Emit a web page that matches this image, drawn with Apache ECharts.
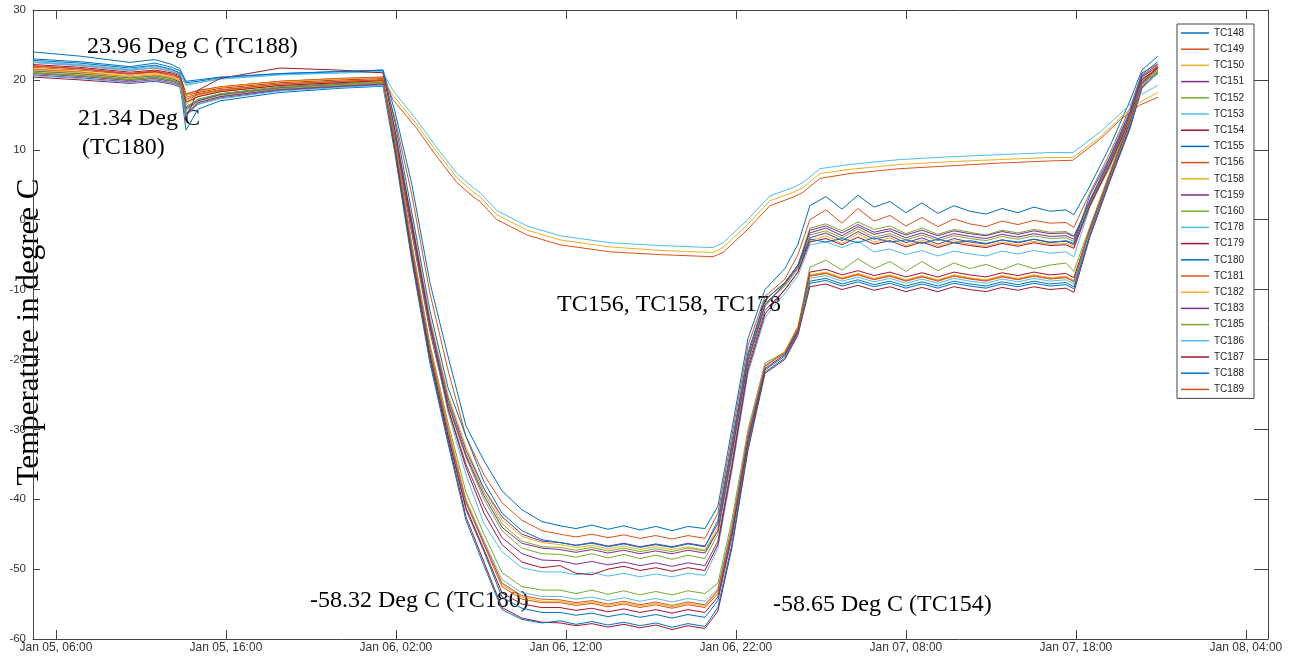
<!DOCTYPE html>
<html>
<head>
<meta charset="utf-8">
<script src="https://cdn.jsdelivr.net/npm/echarts@6/dist/echarts.min.js"></script>
<style>
  html, body { margin: 0; padding: 0; background: #fff; }
  #chart { width: 1292px; height: 656px; }
</style>
</head>
<body>
<div id="chart"></div>
<script>
// hours since Jan 05 00:00
const tFast = [4.65, 7.41, 10.35, 11.82, 12.82, 13.29, 13.65, 14.35, 15.65, 19.18, 22.71, 25.24,
  25.94, 26.94, 28.0, 29.06, 30.12, 31.18, 32.24, 33.41, 34.59,
  35.65, 36.59, 37.53, 38.47, 39.41, 40.35, 41.29, 42.24, 43.18, 44.18,
  44.94, 45.76, 46.71, 47.71, 48.88, 49.65,
  50.35, 51.29, 52.24, 53.18, 54.12, 55.06, 56.0, 56.94, 57.88, 58.82, 59.76, 60.71, 61.65, 62.59, 63.53, 64.47, 65.41, 65.88,
  66.82, 68.0, 69.18, 69.88, 70.82]

const tSlow = [4.65, 7.41, 10.35, 11.82, 12.82, 13.29, 13.65, 14.35, 15.65, 19.18, 22.71, 25.24,
  25.82, 27.24, 28.41, 29.59, 30.53, 30.94, 31.94, 33.71, 35.65, 38.59, 41.53, 44.65, 45.24,
  46.65, 48.0, 49.35, 49.94, 50.94, 52.71, 55.65, 58.59, 61.53, 64.47, 65.82,
  67.41, 68.71, 69.76, 70.82]

const tc148 = [23.0, 22.6, 21.9, 22.4, 21.8, 21.3, 19.6, 19.8, 20.3, 20.9, 21.2, 21.4,
  15.5, 5.0, -9.0, -19.5, -29.5, -34.5, -38.8, -41.5, -43.2,
  -43.8, -44.2, -43.7, -44.3, -43.8, -44.4, -43.9, -44.5, -43.9, -44.2,
  -41, -30, -17, -10, -7, -3.5,
  2.0, 3.3, 1.5, 3.5, 1.8, 2.6, 1.0, 2.4, 0.9, 2.0, 1.2, 0.8, 1.6, 1.0, 1.8, 1.2, 1.4, 0.7,
  4.8, 10.5, 17.0, 21.4, 23.4]
const tc149 = [22.5, 22.1, 21.4, 21.7, 21.2, 20.8, 18.0, 18.4, 19.0, 19.8, 20.2, 20.4,
  14.5, 3.5, -10.5, -21.5, -31.0, -36.5, -40.5, -43.0, -44.5,
  -45.0, -45.4, -45.0, -45.5, -45.1, -45.6, -45.2, -45.7, -45.2, -45.6,
  -42, -31, -18, -11, -8.5, -5,
  0.0, 1.4, -0.5, 1.6, -0.2, 0.6, -0.9, 0.3, -1.0, 0.1, -0.6, -1.0, -0.2, -0.7, -0.1, -0.5, -0.4, -1.1,
  3.8, 9.5, 16.0, 21.0, 22.3]
const tc150 = [21.6, 21.2, 20.6, 20.9, 20.4, 20.0, 16.5, 17.6, 18.3, 19.2, 19.7, 20.0,
  12.5, 0.0, -14.0, -25.0, -32.5, -38.5, -43.0, -45.3, -46.2,
  -46.5, -46.9, -46.6, -47.1, -46.7, -47.2, -46.8, -47.2, -46.8, -47.3,
  -44, -33, -20, -12, -9.5, -7,
  -3.0, -2.3, -3.4, -2.0, -3.2, -2.6, -3.7, -2.9, -3.8, -3.0, -3.5, -3.8, -3.2, -3.6, -3.1, -3.5, -3.4, -3.9,
  2.5, 8.5, 15.0, 20.5, 22.0]
const tc151 = [20.7, 20.3, 19.7, 20.0, 19.6, 19.2, 15.0, 16.5, 17.4, 18.5, 19.0, 19.3,
  11.0, -2.0, -16.0, -27.0, -35.0, -41.0, -45.5, -47.8, -48.7,
  -48.8, -49.3, -48.9, -49.4, -49.0, -49.5, -49.1, -49.6, -49.1, -49.5,
  -46, -35, -21, -13, -10, -7.5,
  -2.6, -1.9, -3.0, -1.7, -2.8, -2.3, -3.3, -2.6, -3.5, -2.7, -3.2, -3.5, -2.9, -3.3, -2.8, -3.2, -3.1, -3.6,
  2.2, 8.0, 14.5, 20.0, 21.6]
const tc152 = [21.2, 20.8, 20.1, 20.4, 20.0, 19.6, 15.5, 17.0, 17.8, 18.8, 19.3, 19.6,
  11.5, -1.5, -15.5, -26.5, -34.0, -40.0, -44.5, -47.0, -47.8,
  -47.9, -48.3, -47.8, -48.4, -47.9, -48.5, -48.0, -48.6, -48.0, -48.5,
  -45, -34, -20.5, -12.5, -9, -6.5,
  -1.2, -0.6, -1.6, -0.3, -1.4, -0.9, -2.0, -1.2, -2.1, -1.4, -1.8, -2.2, -1.5, -1.9, -1.4, -1.8, -1.7, -2.3,
  2.0, 7.5, 14.0, 19.6, 21.0]
const tc153 = [22.6, 22.2, 21.5, 22.0, 21.4, 20.9, 19.2, 19.6, 20.2, 20.8, 21.0, 21.2,
  13.0, -0.5, -15.0, -27.5, -36.5, -43.5, -47.5, -49.8, -50.4,
  -50.4, -50.8, -50.5, -51.0, -50.6, -51.1, -50.7, -51.1, -50.6, -50.9,
  -47, -36, -22, -14, -10.5, -8,
  -3.6, -3.2, -4.0, -3.1, -4.6, -4.2, -5.0, -4.4, -5.2, -4.5, -4.9, -5.2, -4.5, -4.9, -4.4, -4.8, -4.6, -5.3,
  1.8, 7.8, 14.2, 19.8, 21.2]
const tc154 = [22.2, 21.8, 21.1, 21.4, 21.0, 20.6, 17.8, 18.2, 18.8, 19.6, 20.0, 20.2,
  10.0, -5.5, -20.0, -31.5, -42.5, -49.0, -55.5, -57.0, -57.6,
  -57.7, -58.1, -57.8, -58.3, -57.9, -58.4, -58.0, -58.65, -58.1, -58.5,
  -56.0, -47.0, -33.0, -22.0, -20.0, -16.5,
  -9.6, -9.2, -10.0, -9.4, -10.1, -9.6, -10.3, -9.7, -10.3, -9.6, -10.0, -10.3, -9.7, -10.1, -9.6, -10.0, -9.8, -10.4,
  -2.5, 5.5, 13.0, 18.8, 21.0]
const tc155 = [22.8, 22.4, 21.7, 22.1, 21.5, 21.0, 16.0, 17.2, 18.0, 19.0, 19.5, 19.8,
  10.8, -4.8, -19.5, -31.0, -41.5, -47.5, -54.0, -55.6, -56.2,
  -56.2, -56.6, -56.3, -56.8, -56.4, -56.9, -56.5, -57.0, -56.5, -56.9,
  -54.5, -45.5, -32.0, -21.5, -19.5, -16.0,
  -8.8, -8.4, -9.2, -8.6, -9.3, -8.8, -9.5, -8.9, -9.5, -8.8, -9.2, -9.5, -8.9, -9.3, -8.8, -9.2, -9.0, -9.6,
  -1.8, 6.0, 13.5, 19.2, 21.5]
const tc156 = [21.5, 21.1, 20.4, 20.7, 20.3, 19.8, 18.0, 18.5, 19.0, 19.8, 20.2, 20.4,
  17.2, 13.0, 9.0, 5.3, 3.3, 2.6, 0.0, -2.2, -3.6, -4.6, -5.0, -5.3, -4.7,
  -1.5, 2.0, 3.2, 3.9, 5.9, 6.6, 7.3, 7.7, 8.1, 8.4, 8.5,
  11.5, 14.5, 16.4, 17.5]
const tc158 = [21.2, 20.8, 20.2, 20.5, 20.1, 19.7, 17.8, 18.3, 18.9, 19.7, 20.1, 20.3,
  17.8, 13.6, 9.7, 6.0, 4.0, 3.3, 0.7, -1.5, -2.9, -3.9, -4.4, -4.7, -4.0,
  -0.8, 2.7, 3.9, 4.6, 6.6, 7.2, 7.9, 8.3, 8.6, 8.9, 8.9,
  11.8, 14.8, 16.8, 18.2]
const tc159 = [20.9, 20.5, 19.9, 20.2, 19.8, 19.4, 15.8, 17.0, 17.9, 18.9, 19.4, 19.6,
  12.0, -0.5, -14.5, -25.5, -33.0, -38.5, -42.5, -45.0, -46.0,
  -46.2, -46.6, -46.2, -46.7, -46.3, -46.8, -46.4, -46.8, -46.3, -46.7,
  -43.5, -32.5, -19.5, -11.5, -9, -6.5,
  -1.9, -1.2, -2.3, -1.0, -2.1, -1.6, -2.6, -1.9, -2.7, -2.0, -2.4, -2.7, -2.1, -2.5, -2.0, -2.4, -2.3, -2.8,
  2.8, 8.8, 15.3, 20.6, 22.2]
const tc160 = [21.0, 20.6, 20.0, 20.3, 19.9, 19.5, 15.2, 16.8, 17.6, 18.7, 19.2, 19.5,
  12.2, -0.8, -14.8, -25.8, -33.5, -39.0, -43.5, -46.0, -46.8,
  -46.9, -47.3, -46.9, -47.4, -47.0, -47.5, -47.1, -47.5, -47.0, -47.4,
  -44.5, -33.5, -20, -12, -9.5, -7,
  -2.2, -1.6, -2.6, -1.3, -2.5, -2.0, -2.9, -2.2, -3.0, -2.3, -2.7, -3.0, -2.4, -2.8, -2.3, -2.7, -2.6, -3.1,
  2.4, 8.2, 14.8, 20.2, 21.5]
const tc178 = [22.5, 22.0, 21.3, 21.8, 21.2, 20.7, 19.4, 19.6, 20.1, 20.7, 21.0, 21.1,
  18.5, 14.2, 10.3, 6.6, 4.6, 3.9, 1.3, -0.9, -2.3, -3.3, -3.7, -4.0, -3.3,
  -0.1, 3.4, 4.6, 5.3, 7.3, 7.9, 8.6, 9.0, 9.3, 9.6, 9.6,
  12.5, 15.4, 17.8, 19.2]
const tc179 = [20.4, 20.0, 19.5, 19.8, 19.4, 19.0, 14.5, 18.5, 20.2, 21.7, 21.4, 21.0,
  12.8, -0.5, -15.0, -27.0, -35.5, -42.0, -46.5, -49.0, -49.8,
  -49.5, -50.6, -50.8, -50.0, -49.6, -50.2, -49.8, -50.3, -49.8, -50.2,
  -46.5, -35.5, -21.5, -13.5, -10, -7.5,
  -3.2, -2.7, -3.6, -2.5, -3.5, -3.0, -3.9, -3.2, -4.0, -3.3, -3.7, -4.0, -3.4, -3.8, -3.3, -3.7, -3.6, -4.1,
  2.0, 7.8, 14.4, 20.0, 21.8]
const tc180 = [21.3, 20.9, 20.3, 20.6, 20.2, 19.7, 12.8, 15.8, 17.0, 18.2, 18.8, 19.1,
  9.5, -6.0, -20.5, -32.0, -43.0, -49.5, -55.8, -57.2, -57.7,
  -57.4, -57.9, -57.5, -58.0, -57.6, -58.1, -57.7, -58.32, -57.8, -58.2,
  -55.5, -46.5, -32.5, -21.8, -19.8, -16.2,
  -9.1, -8.7, -9.5, -8.9, -9.6, -9.1, -9.8, -9.2, -9.8, -9.1, -9.5, -9.8, -9.2, -9.6, -9.1, -9.5, -9.3, -9.9,
  -2.2, 5.8, 13.2, 19.0, 21.2]
const tc181 = [21.8, 21.4, 20.8, 21.1, 20.6, 20.2, 17.5, 18.0, 18.6, 19.4, 19.8, 20.0,
  11.0, -4.0, -18.5, -30.0, -40.5, -46.5, -52.5, -54.3, -54.8,
  -54.8, -55.2, -54.9, -55.4, -55.0, -55.5, -55.1, -55.6, -55.1, -55.5,
  -53.5, -44.5, -31.0, -21.0, -19.0, -15.5,
  -8.0, -7.6, -8.4, -7.8, -8.5, -8.0, -8.7, -8.1, -8.7, -8.0, -8.4, -8.7, -8.1, -8.5, -8.0, -8.4, -8.2, -8.8,
  -1.5, 6.2, 13.8, 19.4, 21.6]
const tc182 = [21.4, 21.0, 20.4, 20.7, 20.3, 19.9, 17.0, 17.8, 18.4, 19.2, 19.6, 19.8,
  11.2, -3.8, -18.2, -29.6, -40.0, -46.0, -52.2, -54.0, -54.6,
  -54.6, -55.0, -54.7, -55.2, -54.8, -55.3, -54.9, -55.4, -54.9, -55.3,
  -53.2, -44.0, -30.5, -20.8, -18.8, -15.2,
  -7.9, -7.5, -8.3, -7.7, -8.4, -7.9, -8.6, -8.0, -8.6, -7.9, -8.3, -8.6, -8.0, -8.4, -7.9, -8.3, -8.1, -8.7,
  -1.2, 6.5, 14.0, 19.5, 21.4]
const tc183 = [21.0, 20.6, 20.0, 20.3, 19.9, 19.5, 15.0, 16.7, 17.6, 18.6, 19.1, 19.4,
  11.8, -1.2, -15.2, -26.2, -33.8, -39.5, -44.0, -46.3, -47.0,
  -47.2, -47.6, -47.2, -47.7, -47.3, -47.8, -47.4, -47.8, -47.3, -47.7,
  -44.5, -33.5, -20.2, -12.2, -9.2, -6.8,
  -1.5, -0.9, -1.9, -0.7, -1.8, -1.3, -2.2, -1.5, -2.3, -1.6, -2.0, -2.3, -1.7, -2.1, -1.6, -2.0, -1.9, -2.4,
  2.6, 8.4, 15.0, 20.4, 21.9]
const tc185 = [21.0, 20.6, 20.0, 20.3, 19.9, 19.5, 16.2, 17.2, 18.0, 19.0, 19.4, 19.6,
  11.5, -3.5, -17.8, -29.0, -39.0, -45.0, -50.5, -52.5, -53.0,
  -53.0, -53.5, -53.0, -53.6, -53.1, -53.7, -53.2, -53.7, -53.1, -53.5,
  -52.0, -43.0, -30.0, -20.5, -19.0, -15.5,
  -6.8, -5.8, -7.2, -5.6, -7.0, -6.0, -7.4, -6.0, -7.3, -6.2, -7.0, -6.4, -7.2, -6.3, -7.0, -6.5, -6.2, -7.4,
  -1.0, 6.8, 14.3, 19.7, 21.0]
const tc186 = [20.6, 20.2, 19.6, 19.9, 19.5, 19.1, 14.8, 16.5, 17.3, 18.4, 18.9, 19.2,
  11.0, -4.2, -18.8, -30.2, -40.2, -46.0, -51.5, -53.4, -53.9,
  -53.9, -54.3, -54.0, -54.5, -54.1, -54.6, -54.2, -54.7, -54.2, -54.6,
  -52.8, -43.8, -30.5, -20.8, -19.2, -15.8,
  -8.4, -8.0, -8.8, -8.2, -8.9, -8.4, -9.1, -8.5, -9.1, -8.4, -8.8, -9.1, -8.5, -8.9, -8.4, -8.8, -8.6, -9.2,
  -1.6, 6.2, 13.8, 19.3, 20.8]
const tc187 = [22.0, 21.6, 20.9, 21.2, 20.8, 20.4, 16.8, 17.6, 18.3, 19.2, 19.6, 19.9,
  10.5, -4.8, -19.2, -30.8, -41.2, -47.2, -53.4, -55.0, -55.5,
  -55.5, -55.9, -55.6, -56.1, -55.7, -56.2, -55.8, -56.3, -55.8, -56.2,
  -54.0, -45.0, -31.5, -21.3, -19.3, -15.8,
  -7.5, -7.1, -7.9, -7.3, -8.0, -7.5, -8.2, -7.6, -8.2, -7.5, -7.9, -8.2, -7.6, -8.0, -7.5, -7.9, -7.7, -8.3,
  -1.4, 6.4, 14.0, 19.5, 21.8]
const tc188 = [24.0, 23.4, 22.5, 22.9, 22.2, 21.6, 19.8, 20.0, 20.4, 20.9, 21.2, 21.4,
  14.0, 1.0, -13.0, -24.0, -31.0, -37.5, -42.0, -44.5, -45.8,
  -46.2, -46.6, -46.3, -46.8, -46.4, -46.9, -46.5, -46.9, -46.4, -46.8,
  -43, -32, -19, -11.5, -9, -6.5,
  -2.8, -3.2, -2.7, -3.3, -2.6, -3.2, -2.9, -3.4, -2.8, -3.3, -3.0, -3.4, -2.9, -3.2, -2.8, -3.3, -3.0, -3.4,
  3.5, 9.0, 15.5, 20.8, 22.6]
const tc189 = [22.0, 21.6, 20.9, 21.3, 20.8, 20.3, 17.2, 17.9, 18.5, 19.4, 19.8, 20.0,
  11.0, -4.2, -18.6, -30.0, -40.4, -46.3, -52.0, -53.8, -54.3,
  -54.4, -54.8, -54.5, -55.0, -54.6, -55.1, -54.7, -55.2, -54.7, -55.1,
  -53.0, -44.2, -30.8, -21.0, -19.0, -15.5,
  -8.1, -7.7, -8.5, -7.9, -8.6, -8.1, -8.8, -8.2, -8.8, -8.1, -8.5, -8.8, -8.2, -8.6, -8.1, -8.5, -8.3, -8.9,
  -1.3, 6.6, 14.2, 19.6, 22.0]

const sensorNames = ['TC148', 'TC149', 'TC150', 'TC151', 'TC152', 'TC153', 'TC154', 'TC155', 'TC156', 'TC158',
  'TC159', 'TC160', 'TC178', 'TC179', 'TC180', 'TC181', 'TC182', 'TC183', 'TC185', 'TC186', 'TC187', 'TC188', 'TC189']
const sensorValues = [tc148, tc149, tc150, tc151, tc152, tc153, tc154, tc155, tc156, tc158,
  tc159, tc160, tc178, tc179, tc180, tc181, tc182, tc183, tc185, tc186, tc187, tc188, tc189]
const slowSensors = ['TC156', 'TC158', 'TC178']

const xTicks = [6, 16, 26, 36, 46, 56, 66, 76]

// matlab default line colours
const colors = ['#0072BD', '#D95319', '#EDB120', '#7E2F8E', '#77AC30', '#4DBEEE', '#A2142F']

const chart = echarts.init(document.getElementById('chart'))

function timeLabel (v) {
  const day = 5 + Math.floor(v / 24)
  const hh = v - 24 * Math.floor(v / 24)
  return 'Jan 0' + day + ', ' + (hh < 10 ? '0' : '') + hh + ':00'
}

const series = sensorNames.map((name, i) => {
  const t = slowSensors.includes(name) ? tSlow : tFast
  return {
    name: name,
    type: 'line',
    showSymbol: false,
    symbol: 'none',
    color: colors[i % colors.length],
    lineStyle: { width: 1 },
    data: sensorValues[i].map((v, k) => [t[k], v])
  }
})

const serif = '"Liberation Serif", "Times New Roman", serif'
const labelFont = '"Liberation Sans", Arial, sans-serif'
const axisColor = '#444'

chart.setOption({
  animation: false,
  backgroundColor: '#fff',
  grid: { left: 33, right: 24, top: 10, bottom: 17 },
  xAxis: [{
    type: 'value',
    min: 4.65,
    max: 77.3,
    axisLine: { onZero: false, lineStyle: { color: axisColor, width: 1 } },
    axisTick: { inside: true, length: 9, customValues: xTicks, lineStyle: { color: axisColor } },
    axisLabel: { customValues: xTicks, formatter: timeLabel, color: '#333', fontSize: 12, fontFamily: labelFont, margin: 3 },
    splitLine: { show: false }
  }, {
    type: 'value',
    position: 'top',
    min: 4.65,
    max: 77.3,
    axisLine: { show: true, onZero: false, lineStyle: { color: axisColor, width: 1 } },
    axisTick: { inside: true, length: 9, customValues: xTicks, lineStyle: { color: axisColor } },
    axisLabel: { show: false },
    splitLine: { show: false }
  }],
  yAxis: [{
    type: 'value',
    min: -60,
    max: 30,
    interval: 10,
    axisLine: { show: true, onZero: false, lineStyle: { color: axisColor, width: 1 } },
    axisTick: { show: true, inside: true, length: 7, lineStyle: { color: axisColor } },
    axisLabel: { color: '#333', fontSize: 11.5, fontFamily: labelFont, margin: 7 },
    splitLine: { show: false }
  }, {
    type: 'value',
    position: 'right',
    min: -60,
    max: 30,
    interval: 10,
    axisLine: { show: true, onZero: false, lineStyle: { color: axisColor, width: 1 } },
    axisTick: { show: true, inside: true, length: 14, lineStyle: { color: axisColor } },
    axisLabel: { show: false },
    splitLine: { show: false }
  }],
  legend: {
    orient: 'vertical',
    left: 1177,
    top: 24,
    data: sensorNames,
    icon: 'rect',
    itemWidth: 28,
    itemHeight: 1.5,
    itemGap: 4.2,
    padding: [3, 10, 3, 4],
    backgroundColor: '#fff',
    borderColor: axisColor,
    borderWidth: 1,
    borderRadius: 0,
    textStyle: { fontSize: 10, lineHeight: 12, color: '#222', fontFamily: labelFont }
  },
  graphic: [
    { type: 'text', x: 30, y: 332, rotation: Math.PI / 2, style: { text: 'Temperature in degree C', font: '31px ' + serif, fill: '#000', align: 'center', verticalAlign: 'middle' } },
    { type: 'text', x: 87, y: 47, style: { text: '23.96 Deg C (TC188)', font: '24px ' + serif, fill: '#000', verticalAlign: 'middle' } },
    { type: 'text', x: 78, y: 119, style: { text: '21.34 Deg C', font: '24px ' + serif, fill: '#000', verticalAlign: 'middle' } },
    { type: 'text', x: 82, y: 148, style: { text: '(TC180)', font: '24px ' + serif, fill: '#000', verticalAlign: 'middle' } },
    { type: 'text', x: 557, y: 305, style: { text: 'TC156, TC158, TC178', font: '24px ' + serif, fill: '#000', verticalAlign: 'middle' } },
    { type: 'text', x: 310, y: 601, style: { text: '-58.32 Deg C (TC180)', font: '24px ' + serif, fill: '#000', verticalAlign: 'middle' } },
    { type: 'text', x: 773, y: 605, style: { text: '-58.65 Deg C (TC154)', font: '24px ' + serif, fill: '#000', verticalAlign: 'middle' } }
  ],
  series: series
})
</script>
</body>
</html>
